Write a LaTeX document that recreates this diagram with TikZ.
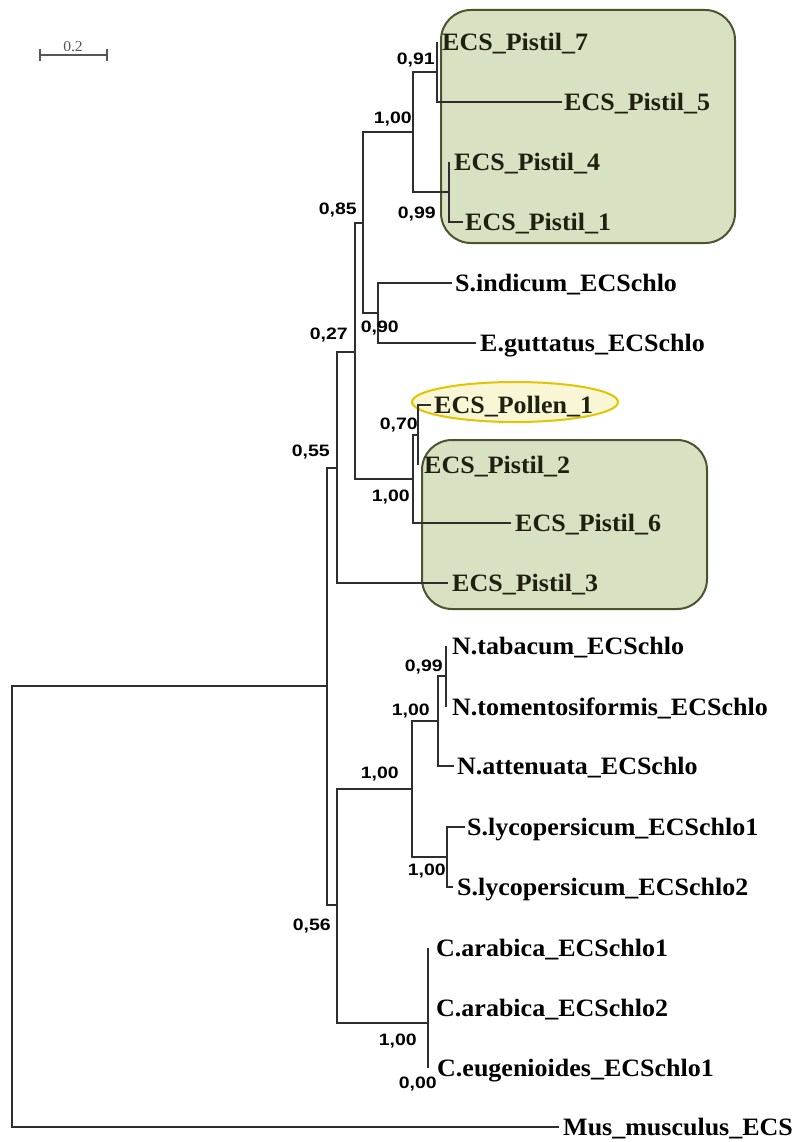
\documentclass[tikz,border=0pt]{standalone}
\usepackage{fontspec}
\setmainfont{Liberation Serif}[FakeStretch=1.04]
\newfontfamily\supportfont{Liberation Sans}[FakeStretch=1.18]
\usetikzlibrary{shapes.geometric}

\definecolor{branchcol}{HTML}{2E2E2E}
\definecolor{boxfill}{HTML}{D9E1C3}
\definecolor{boxedge}{HTML}{4A5530}
\definecolor{pollenfill}{HTML}{F8F6D4}
\definecolor{pollenedge}{HTML}{E3C400}
\definecolor{cladetext}{HTML}{1E2010}
\definecolor{scalecol}{HTML}{555555}

\tikzset{
  branch/.style={draw=branchcol, line width=1.3pt, line join=miter},
  taxon/.style={anchor=base west, inner sep=0pt, yshift=-8.5pt,
    font=\fontsize{25}{30}\selectfont\bfseries},
  cladetaxon/.style={taxon, text=cladetext},
  support/.style={anchor=base east, inner sep=0pt, yshift=-6pt,
    font=\supportfont\fontsize{16.5}{20}\selectfont\bfseries},
  cladebox/.style={draw=boxedge, fill=boxfill, line width=2pt, rounded corners=30pt},
  pollenmark/.style={ellipse, draw=pollenedge, fill=pollenfill, line width=2pt,
    minimum width=206pt, minimum height=40pt, inner sep=0pt},
}

\begin{document}
\begin{tikzpicture}[x=1pt, y=-1pt]
\useasboundingbox[fill=white] (0,0) rectangle (796,1142);

% highlighted clades (behind the tree)
\draw[cladebox] (441,10) rectangle (735,243);
\draw[cladebox] (422,440) rectangle (707,609);
\node[pollenmark] (pollen) at (515,402) {};

% scale bar
\coordinate (sbL) at (40,55);
\coordinate (sbR) at (107,55);
\draw[draw=scalecol, line width=1.1pt] (sbL) -- (sbR);
\draw[draw=scalecol, line width=1.1pt] ([yshift=6pt]sbL) -- ([yshift=-6pt]sbL);
\draw[draw=scalecol, line width=1.1pt] ([yshift=6pt]sbR) -- ([yshift=-6pt]sbR);
\node[text=scalecol, inner sep=0pt, font=\fontsize{15}{18}\selectfont] (sbtext) at (73,47) {0.2};

% internal nodes
\coordinate (R)     at (12,906);
\coordinate (T)     at (327,686);
\coordinate (n55)   at (337,468);
\coordinate (n27)   at (355,352);
\coordinate (n85)   at (363,223);
\coordinate (n100a) at (413,132);
\coordinate (n91)   at (437,72);
\coordinate (n99a)  at (449,192);
\coordinate (n90)   at (378,313);
\coordinate (n100b) at (413,479);
\coordinate (n70)   at (418,435);
\coordinate (n56)   at (337,905);
\coordinate (n100c) at (412,789);
\coordinate (n100d) at (438,721);
\coordinate (n99b)  at (446,676);
\coordinate (n100e) at (447,857);
\coordinate (nC)    at (428,1023);
\coordinate (nCin)  at (428,978);

% leaf tips
\coordinate (tP7)   at (437,42);
\coordinate (tP5)   at (562,102);
\coordinate (tP4)   at (449,162);
\coordinate (tP1)   at (463,222);
\coordinate (tSind) at (452,283);
\coordinate (tEgut) at (476,343);
\coordinate (tPol)  at (431,405);
\coordinate (tP2)   at (418,465);
\coordinate (tP6)   at (511,523);
\coordinate (tP3)   at (448,583);
\coordinate (tNtab) at (446,646);
\coordinate (tNtom) at (446,707);
\coordinate (tNatt) at (454,766);
\coordinate (tSly1) at (465,827);
\coordinate (tSly2) at (453,887);
\coordinate (tCar1) at (428,948);
\coordinate (tCar2) at (428,1008);
\coordinate (tCeu)  at (428,1068);
\coordinate (tMus)  at (559,1127);

% branches
\draw[branch] (R) |- (T);
\draw[branch] (R) |- (tMus);
\draw[branch] (T) |- (n55);
\draw[branch] (T) |- (n56);
\draw[branch] (n55) |- (n27);
\draw[branch] (n55) |- (tP3);
\draw[branch] (n27) |- (n85);
\draw[branch] (n27) |- (n100b);
\draw[branch] (n85) |- (n100a);
\draw[branch] (n85) |- (n90);
\draw[branch] (n100a) |- (n91);
\draw[branch] (n100a) |- (n99a);
\draw[branch] (n91) |- (tP7);
\draw[branch] (n91) |- (tP5);
\draw[branch] (n99a) |- (tP4);
\draw[branch] (n99a) |- (tP1);
\draw[branch] (n90) |- (tSind);
\draw[branch] (n90) |- (tEgut);
\draw[branch] (n100b) |- (n70);
\draw[branch] (n100b) |- (tP6);
\draw[branch] (n70) |- (tPol);
\draw[branch] (n70) |- (tP2);
\draw[branch] (n56) |- (n100c);
\draw[branch] (n56) |- (nC);
\draw[branch] (n100c) |- (n100d);
\draw[branch] (n100c) |- (n100e);
\draw[branch] (n100d) |- (n99b);
\draw[branch] (n100d) |- (tNatt);
\draw[branch] (n99b) |- (tNtab);
\draw[branch] (n99b) |- (tNtom);
\draw[branch] (n100e) |- (tSly1);
\draw[branch] (n100e) |- (tSly2);
\draw[branch] (nC) |- (nCin);
\draw[branch] (nC) |- (tCeu);
\draw[branch] (nCin) |- (tCar1);
\draw[branch] (nCin) |- (tCar2);

% taxon labels
\node[cladetaxon] (lP7)   at (442,42)  {ECS\_Pistil\_7};
\node[cladetaxon] (lP5)   at (564,102) {ECS\_Pistil\_5};
\node[cladetaxon] (lP4)   at (454,162) {ECS\_Pistil\_4};
\node[cladetaxon] (lP1)   at (465,222) {ECS\_Pistil\_1};
\node[taxon]      (lSind) at (455,283) {S.indicum\_ECSchlo};
\node[taxon]      (lEgut) at (480,343) {E.guttatus\_ECSchlo};
\node[cladetaxon] (lPol)  at (434,405) {ECS\_Pollen\_1};
\node[cladetaxon] (lP2)   at (424,465) {ECS\_Pistil\_2};
\node[cladetaxon] (lP6)   at (515,523) {ECS\_Pistil\_6};
\node[cladetaxon] (lP3)   at (452,583) {ECS\_Pistil\_3};
\node[taxon]      (lNtab) at (452,646) {N.tabacum\_ECSchlo};
\node[taxon]      (lNtom) at (452,707) {N.tomentosiformis\_ECSchlo};
\node[taxon]      (lNatt) at (457,766) {N.attenuata\_ECSchlo};
\node[taxon]      (lSly1) at (467,827) {S.lycopersicum\_ECSchlo1};
\node[taxon]      (lSly2) at (457,887) {S.lycopersicum\_ECSchlo2};
\node[taxon]      (lCar1) at (436,948) {C.arabica\_ECSchlo1};
\node[taxon]      (lCar2) at (436,1008) {C.arabica\_ECSchlo2};
\node[taxon]      (lCeu)  at (437,1068) {C.eugenioides\_ECSchlo1};
\node[taxon]      (lMus)  at (563,1127) {Mus\_musculus\_ECS};

% support values
\node[support] (s91)   at (435,59)   {0,91};
\node[support] (s100a) at (412,118)  {1,00};
\node[support] (s99a)  at (436,212)  {0,99};
\node[support] (s85)   at (357,208)  {0,85};
\node[support] (s90)   at (399,326)  {0,90};
\node[support] (s27)   at (348,333)  {0,27};
\node[support] (s70)   at (418,423)  {0,70};
\node[support] (s55)   at (330,450)  {0,55};
\node[support] (s100b) at (410,495)  {1,00};
\node[support] (s99b)  at (443,665)  {0,99};
\node[support] (s100d) at (430,709)  {1,00};
\node[support] (s100c) at (399,772)  {1,00};
\node[support] (s100e) at (446,869)  {1,00};
\node[support] (s56)   at (331,924)  {0,56};
\node[support] (s100C) at (417,1039) {1,00};
\node[support] (s00)   at (437,1082) {0,00};
\end{tikzpicture}
\end{document}
